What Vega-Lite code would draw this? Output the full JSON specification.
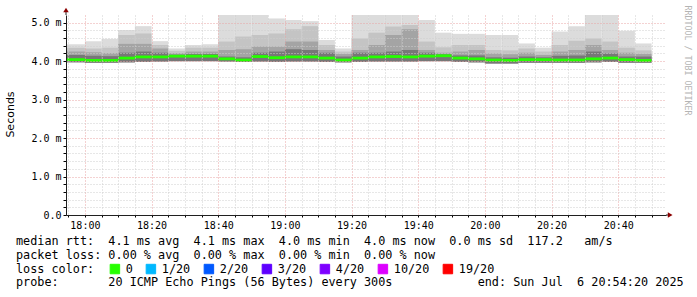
{
  "$schema": "https://vega.github.io/schema/vega-lite/v6.json",
  "width": 600,
  "height": 200,
  "autosize": {"type": "none"},
  "padding": {"left": 66, "top": 15, "right": 31, "bottom": 82},
  "background": "white",
  "config": {"view": {"stroke": null}, "font": "DejaVu Sans Mono"},
  "title": {
    "text": [
      "median rtt:\u00a0\u00a04.1 ms avg\u00a0\u00a04.1 ms max\u00a0\u00a04.0 ms min\u00a0\u00a04.0 ms now\u00a0\u00a00.0 ms sd\u00a0\u00a0117.2\u00a0\u00a0\u00a0am/s",
      "packet loss: 0.00 % avg\u00a0\u00a00.00 % max\u00a0\u00a00.00 % min\u00a0\u00a00.00 % now"
    ],
    "subtitle": "probe:\u00a0\u00a0\u00a0\u00a0\u00a0\u00a0\u00a020 ICMP Echo Pings (56 Bytes) every 300s\u00a0\u00a0\u00a0\u00a0\u00a0\u00a0\u00a0\u00a0\u00a0\u00a0\u00a0\u00a0end: Sun Jul\u00a0\u00a06 20:54:20 2025",
    "orient": "bottom",
    "anchor": "start",
    "frame": "group",
    "align": "left",
    "baseline": "top",
    "dx": -50,
    "offset": -40,
    "font": "DejaVu Sans Mono",
    "fontSize": 11.8,
    "fontWeight": "normal",
    "color": "#000000",
    "lineHeight": 14,
    "subtitleFont": "DejaVu Sans Mono",
    "subtitleFontSize": 11.8,
    "subtitleFontWeight": "normal",
    "subtitleColor": "#000000",
    "subtitleLineHeight": 14,
    "subtitlePadding": 15
  },
  "datasets": {
    "smoke": [
      {"start": "2025-07-06T17:50:00Z", "end": "2025-07-06T18:00:00Z", "hi": 4.44, "q3": 4.35, "q2": 4.25, "q1": 4.16, "med": 4.04, "lo": 3.97, "loss": "0"},
      {"start": "2025-07-06T18:00:00Z", "end": "2025-07-06T18:05:00Z", "hi": 4.52, "q3": 4.33, "q2": 4.23, "q1": 4.14, "med": 4.02, "lo": 3.96, "loss": "0"},
      {"start": "2025-07-06T18:05:00Z", "end": "2025-07-06T18:10:00Z", "hi": 4.58, "q3": 4.35, "q2": 4.21, "q1": 4.13, "med": 4.02, "lo": 3.96, "loss": "0"},
      {"start": "2025-07-06T18:10:00Z", "end": "2025-07-06T18:15:00Z", "hi": 4.81, "q3": 4.68, "q2": 4.45, "q1": 4.22, "med": 4.08, "lo": 3.97, "loss": "0"},
      {"start": "2025-07-06T18:15:00Z", "end": "2025-07-06T18:20:00Z", "hi": 4.91, "q3": 4.72, "q2": 4.45, "q1": 4.25, "med": 4.11, "lo": 3.98, "loss": "0"},
      {"start": "2025-07-06T18:20:00Z", "end": "2025-07-06T18:25:00Z", "hi": 4.52, "q3": 4.42, "q2": 4.33, "q1": 4.22, "med": 4.11, "lo": 3.99, "loss": "0"},
      {"start": "2025-07-06T18:25:00Z", "end": "2025-07-06T18:30:00Z", "hi": 4.33, "q3": 4.27, "q2": 4.21, "q1": 4.17, "med": 4.13, "lo": 4.00, "loss": "0"},
      {"start": "2025-07-06T18:30:00Z", "end": "2025-07-06T18:35:00Z", "hi": 4.42, "q3": 4.35, "q2": 4.25, "q1": 4.19, "med": 4.13, "lo": 4.00, "loss": "0"},
      {"start": "2025-07-06T18:35:00Z", "end": "2025-07-06T18:40:00Z", "hi": 4.44, "q3": 4.35, "q2": 4.25, "q1": 4.19, "med": 4.13, "lo": 4.00, "loss": "0"},
      {"start": "2025-07-06T18:40:00Z", "end": "2025-07-06T18:45:00Z", "hi": 5.20, "q3": 4.51, "q2": 4.29, "q1": 4.12, "med": 4.06, "lo": 3.99, "loss": "0"},
      {"start": "2025-07-06T18:45:00Z", "end": "2025-07-06T18:50:00Z", "hi": 5.20, "q3": 4.64, "q2": 4.31, "q1": 4.10, "med": 4.03, "lo": 3.98, "loss": "0"},
      {"start": "2025-07-06T18:50:00Z", "end": "2025-07-06T18:55:00Z", "hi": 5.20, "q3": 4.68, "q2": 4.38, "q1": 4.22, "med": 4.12, "lo": 3.99, "loss": "0"},
      {"start": "2025-07-06T18:55:00Z", "end": "2025-07-06T19:00:00Z", "hi": 5.11, "q3": 4.72, "q2": 4.38, "q1": 4.25, "med": 4.09, "lo": 3.98, "loss": "0"},
      {"start": "2025-07-06T19:00:00Z", "end": "2025-07-06T19:05:00Z", "hi": 5.07, "q3": 4.83, "q2": 4.51, "q1": 4.31, "med": 4.11, "lo": 3.99, "loss": "0"},
      {"start": "2025-07-06T19:05:00Z", "end": "2025-07-06T19:10:00Z", "hi": 5.04, "q3": 4.91, "q2": 4.51, "q1": 4.29, "med": 4.11, "lo": 3.99, "loss": "0"},
      {"start": "2025-07-06T19:10:00Z", "end": "2025-07-06T19:15:00Z", "hi": 4.55, "q3": 4.42, "q2": 4.29, "q1": 4.22, "med": 4.08, "lo": 3.98, "loss": "0"},
      {"start": "2025-07-06T19:15:00Z", "end": "2025-07-06T19:20:00Z", "hi": 4.33, "q3": 4.25, "q2": 4.19, "q1": 4.12, "med": 4.03, "lo": 3.97, "loss": "0"},
      {"start": "2025-07-06T19:20:00Z", "end": "2025-07-06T19:25:00Z", "hi": 5.20, "q3": 4.59, "q2": 4.29, "q1": 4.22, "med": 4.08, "lo": 3.98, "loss": "0"},
      {"start": "2025-07-06T19:25:00Z", "end": "2025-07-06T19:30:00Z", "hi": 5.20, "q3": 4.74, "q2": 4.42, "q1": 4.22, "med": 4.11, "lo": 3.99, "loss": "0"},
      {"start": "2025-07-06T19:30:00Z", "end": "2025-07-06T19:35:00Z", "hi": 5.20, "q3": 4.90, "q2": 4.68, "q1": 4.25, "med": 4.12, "lo": 3.99, "loss": "0"},
      {"start": "2025-07-06T19:35:00Z", "end": "2025-07-06T19:40:00Z", "hi": 5.20, "q3": 4.94, "q2": 4.83, "q1": 4.29, "med": 4.11, "lo": 3.99, "loss": "0"},
      {"start": "2025-07-06T19:40:00Z", "end": "2025-07-06T19:45:00Z", "hi": 5.07, "q3": 4.51, "q2": 4.29, "q1": 4.22, "med": 4.13, "lo": 4.00, "loss": "0"},
      {"start": "2025-07-06T19:45:00Z", "end": "2025-07-06T19:50:00Z", "hi": 4.74, "q3": 4.36, "q2": 4.22, "q1": 4.18, "med": 4.14, "lo": 4.00, "loss": "0"},
      {"start": "2025-07-06T19:50:00Z", "end": "2025-07-06T19:55:00Z", "hi": 4.71, "q3": 4.42, "q2": 4.25, "q1": 4.15, "med": 4.08, "lo": 3.98, "loss": "0"},
      {"start": "2025-07-06T19:55:00Z", "end": "2025-07-06T20:00:00Z", "hi": 4.71, "q3": 4.42, "q2": 4.29, "q1": 4.15, "med": 4.06, "lo": 3.97, "loss": "0"},
      {"start": "2025-07-06T20:00:00Z", "end": "2025-07-06T20:05:00Z", "hi": 4.68, "q3": 4.29, "q2": 4.20, "q1": 4.10, "med": 4.03, "lo": 3.94, "loss": "0"},
      {"start": "2025-07-06T20:05:00Z", "end": "2025-07-06T20:10:00Z", "hi": 4.68, "q3": 4.28, "q2": 4.18, "q1": 4.09, "med": 4.02, "lo": 3.94, "loss": "0"},
      {"start": "2025-07-06T20:10:00Z", "end": "2025-07-06T20:15:00Z", "hi": 4.46, "q3": 4.33, "q2": 4.22, "q1": 4.12, "med": 4.04, "lo": 3.96, "loss": "0"},
      {"start": "2025-07-06T20:15:00Z", "end": "2025-07-06T20:20:00Z", "hi": 4.35, "q3": 4.25, "q2": 4.16, "q1": 4.10, "med": 4.04, "lo": 3.96, "loss": "0"},
      {"start": "2025-07-06T20:20:00Z", "end": "2025-07-06T20:25:00Z", "hi": 4.77, "q3": 4.42, "q2": 4.25, "q1": 4.14, "med": 4.03, "lo": 3.96, "loss": "0"},
      {"start": "2025-07-06T20:25:00Z", "end": "2025-07-06T20:30:00Z", "hi": 4.91, "q3": 4.53, "q2": 4.29, "q1": 4.15, "med": 4.03, "lo": 3.96, "loss": "0"},
      {"start": "2025-07-06T20:30:00Z", "end": "2025-07-06T20:35:00Z", "hi": 5.20, "q3": 4.59, "q2": 4.42, "q1": 4.25, "med": 4.06, "lo": 3.97, "loss": "0"},
      {"start": "2025-07-06T20:35:00Z", "end": "2025-07-06T20:40:00Z", "hi": 5.20, "q3": 4.51, "q2": 4.29, "q1": 4.20, "med": 4.08, "lo": 3.98, "loss": "0"},
      {"start": "2025-07-06T20:40:00Z", "end": "2025-07-06T20:45:00Z", "hi": 4.79, "q3": 4.35, "q2": 4.22, "q1": 4.12, "med": 4.04, "lo": 3.96, "loss": "0"},
      {"start": "2025-07-06T20:45:00Z", "end": "2025-07-06T20:50:00Z", "hi": 4.46, "q3": 4.28, "q2": 4.19, "q1": 4.12, "med": 4.02, "lo": 3.96, "loss": "0"}
    ],
    "axisext": [
      {"dir": "up", "t": "2025-07-06T17:54:20Z", "t2": "2025-07-06T17:54:20Z", "v": 5.2, "v2": 5.33},
      {"dir": "right", "t": "2025-07-06T20:54:20Z", "t2": "2025-07-06T20:55:35Z", "v": 0, "v2": 0}
    ]
  },
  "data": {"name": "smoke"},
  "layer": [
    {
      "mark": {"type": "rect", "color": "#dcdcdc", "clip": true},
      "encoding": {
        "x": {
          "field": "start", "type": "temporal",
          "scale": {"type": "utc", "domain": [{"year": 2025, "month": 7, "date": 6, "hours": 17, "minutes": 54, "seconds": 20, "utc": true}, {"year": 2025, "month": 7, "date": 6, "hours": 20, "minutes": 54, "seconds": 20, "utc": true}]},
          "axis": {
            "title": null,
            "values": [
              {"year": 2025, "month": 7, "date": 6, "hours": 17, "minutes": 55, "utc": true},
              {"year": 2025, "month": 7, "date": 6, "hours": 18, "minutes": 0, "utc": true},
              {"year": 2025, "month": 7, "date": 6, "hours": 18, "minutes": 5, "utc": true},
              {"year": 2025, "month": 7, "date": 6, "hours": 18, "minutes": 10, "utc": true},
              {"year": 2025, "month": 7, "date": 6, "hours": 18, "minutes": 15, "utc": true},
              {"year": 2025, "month": 7, "date": 6, "hours": 18, "minutes": 20, "utc": true},
              {"year": 2025, "month": 7, "date": 6, "hours": 18, "minutes": 25, "utc": true},
              {"year": 2025, "month": 7, "date": 6, "hours": 18, "minutes": 30, "utc": true},
              {"year": 2025, "month": 7, "date": 6, "hours": 18, "minutes": 35, "utc": true},
              {"year": 2025, "month": 7, "date": 6, "hours": 18, "minutes": 40, "utc": true},
              {"year": 2025, "month": 7, "date": 6, "hours": 18, "minutes": 45, "utc": true},
              {"year": 2025, "month": 7, "date": 6, "hours": 18, "minutes": 50, "utc": true},
              {"year": 2025, "month": 7, "date": 6, "hours": 18, "minutes": 55, "utc": true},
              {"year": 2025, "month": 7, "date": 6, "hours": 19, "minutes": 0, "utc": true},
              {"year": 2025, "month": 7, "date": 6, "hours": 19, "minutes": 5, "utc": true},
              {"year": 2025, "month": 7, "date": 6, "hours": 19, "minutes": 10, "utc": true},
              {"year": 2025, "month": 7, "date": 6, "hours": 19, "minutes": 15, "utc": true},
              {"year": 2025, "month": 7, "date": 6, "hours": 19, "minutes": 20, "utc": true},
              {"year": 2025, "month": 7, "date": 6, "hours": 19, "minutes": 25, "utc": true},
              {"year": 2025, "month": 7, "date": 6, "hours": 19, "minutes": 30, "utc": true},
              {"year": 2025, "month": 7, "date": 6, "hours": 19, "minutes": 35, "utc": true},
              {"year": 2025, "month": 7, "date": 6, "hours": 19, "minutes": 40, "utc": true},
              {"year": 2025, "month": 7, "date": 6, "hours": 19, "minutes": 45, "utc": true},
              {"year": 2025, "month": 7, "date": 6, "hours": 19, "minutes": 50, "utc": true},
              {"year": 2025, "month": 7, "date": 6, "hours": 19, "minutes": 55, "utc": true},
              {"year": 2025, "month": 7, "date": 6, "hours": 20, "minutes": 0, "utc": true},
              {"year": 2025, "month": 7, "date": 6, "hours": 20, "minutes": 5, "utc": true},
              {"year": 2025, "month": 7, "date": 6, "hours": 20, "minutes": 10, "utc": true},
              {"year": 2025, "month": 7, "date": 6, "hours": 20, "minutes": 15, "utc": true},
              {"year": 2025, "month": 7, "date": 6, "hours": 20, "minutes": 20, "utc": true},
              {"year": 2025, "month": 7, "date": 6, "hours": 20, "minutes": 25, "utc": true},
              {"year": 2025, "month": 7, "date": 6, "hours": 20, "minutes": 30, "utc": true},
              {"year": 2025, "month": 7, "date": 6, "hours": 20, "minutes": 35, "utc": true},
              {"year": 2025, "month": 7, "date": 6, "hours": 20, "minutes": 40, "utc": true},
              {"year": 2025, "month": 7, "date": 6, "hours": 20, "minutes": 45, "utc": true},
              {"year": 2025, "month": 7, "date": 6, "hours": 20, "minutes": 50, "utc": true}
            ],
            "labelExpr": "utcminutes(datum.value) % 20 == 0 ? utcFormat(datum.value, '%H:%M') : ''",
            "labelFont": "DejaVu Sans Mono", "labelFontSize": 10, "labelColor": "#000000",
            "labelOverlap": false, "labelFlush": false, "labelPadding": 3, "labelBaseline": "top", "labelAngle": 0,
            "tickSize": 2, "tickColor": "#000000", "domainColor": "#202020",
            "grid": true,
            "gridColor": {"condition": {"test": "utcminutes(datum.value) % 20 == 0", "value": "#e8a4a4"}, "value": "#cfcfcf"},
            "gridDash": [1, 2],
            "zindex": 1
          }
        },
        "x2": {"field": "end"},
        "y": {
          "field": "lo", "type": "quantitative",
          "scale": {"domain": [0, 5.2], "nice": false, "zero": true},
          "axis": {
            "orient": "left",
            "title": "Seconds",
            "titleFont": "DejaVu Sans", "titleFontSize": 11, "titleFontWeight": "normal", "titleColor": "#000000",
            "titleAngle": 270, "titleAlign": "center", "titleBaseline": "middle", "titleX": -55.5, "titleY": 99,
            "values": [0, 0.2, 0.4, 0.6, 0.8, 1, 1.2, 1.4, 1.6, 1.8, 2, 2.2, 2.4, 2.6, 2.8, 3, 3.2, 3.4, 3.6, 3.8, 4, 4.2, 4.4, 4.6, 4.8, 5],
            "labelExpr": "abs(datum.value - round(datum.value)) < 0.01 ? (datum.value == 0 ? '0.0\u00a0\u00a0' : format(datum.value, '.1f') + ' m') : ''",
            "labelFont": "DejaVu Sans Mono", "labelFontSize": 10, "labelColor": "#000000",
            "labelOverlap": false, "labelFlush": false, "labelPadding": 2,
            "tickSize": 3, "tickColor": "#000000", "domainColor": "#202020",
            "grid": true,
            "gridColor": {"condition": {"test": "abs(datum.value - round(datum.value)) < 0.01", "value": "#e8a4a4"}, "value": "#cfcfcf"},
            "gridDash": [1, 2],
            "zindex": 1
          }
        },
        "y2": {"field": "hi"}
      }
    },
    {
      "mark": {"type": "rect", "color": "#c4c4c4", "clip": true},
      "encoding": {
        "x": {"field": "start", "type": "temporal", "axis": null},
        "x2": {"field": "end"},
        "y": {"field": "lo", "type": "quantitative", "axis": null},
        "y2": {"field": "q3"}
      }
    },
    {
      "mark": {"type": "rect", "color": "#a4a4a4", "clip": true},
      "encoding": {
        "x": {"field": "start", "type": "temporal", "axis": null},
        "x2": {"field": "end"},
        "y": {"field": "lo", "type": "quantitative", "axis": null},
        "y2": {"field": "q2"}
      }
    },
    {
      "mark": {"type": "rect", "color": "#777777", "clip": true},
      "encoding": {
        "x": {"field": "start", "type": "temporal", "axis": null},
        "x2": {"field": "end"},
        "y": {"field": "lo", "type": "quantitative", "axis": null},
        "y2": {"field": "q1"}
      }
    },
    {
      "mark": {"type": "rule", "strokeWidth": 2.8, "clip": true},
      "encoding": {
        "x": {"field": "start", "type": "temporal", "axis": null},
        "x2": {"field": "end"},
        "y": {
          "field": "med", "type": "quantitative",
          "axis": {
            "orient": "right", "title": "RRDTOOL / TOBI OETIKER",
            "labels": false, "ticks": false, "domain": false, "grid": false,
            "titleAngle": 90, "titleFont": "DejaVu Sans Mono", "titleFontSize": 8.3, "titleFontWeight": "normal",
            "titleColor": "#b4b4b4", "titleX": 20, "titleY": -10, "titleAlign": "left", "titleBaseline": "middle"
          }
        },
        "color": {
          "field": "loss", "type": "nominal",
          "scale": {"domain": ["0", "1/20", "2/20", "3/20", "4/20", "10/20", "19/20"], "range": ["#26ff00", "#00b8ff", "#0059ff", "#5e00ff", "#7e00ff", "#dd00ff", "#ff0000"]},
          "legend": {
            "orient": "none", "legendX": -50, "legendY": 248, "direction": "horizontal", "columns": 7,
            "title": "loss color:", "titleOrient": "left", "titleFont": "DejaVu Sans Mono", "titleFontSize": 11.8,
            "titleFontWeight": "normal", "titleColor": "#000000", "titlePadding": 14, "titleBaseline": "middle",
            "labelFont": "DejaVu Sans Mono", "labelFontSize": 11.8, "labelColor": "#000000", "labelOffset": 5,
            "symbolType": "square", "symbolSize": 90, "symbolStrokeWidth": 1, "symbolOpacity": 1,
            "columnPadding": 11, "padding": 0,
            "encode": {"symbols": {"update": {"fill": {"scale": "color", "field": "value"}, "stroke": {"value": "#000000"}, "strokeWidth": {"value": 1}}}}
          }
        }
      }
    },
    {
      "data": {"name": "axisext"},
      "mark": {"type": "rule", "color": "#202020", "strokeWidth": 1},
      "encoding": {
        "x": {"field": "t", "type": "temporal", "axis": null},
        "x2": {"field": "t2"},
        "y": {"field": "v", "type": "quantitative", "axis": null},
        "y2": {"field": "v2"}
      }
    },
    {
      "data": {"name": "axisext"},
      "transform": [{"filter": "datum.dir == 'up'"}],
      "mark": {"type": "point", "shape": "triangle-up", "filled": true, "color": "#8b0000", "size": 30, "opacity": 1},
      "encoding": {
        "x": {"field": "t2", "type": "temporal", "axis": null},
        "y": {"field": "v2", "type": "quantitative", "axis": null}
      }
    },
    {
      "data": {"name": "axisext"},
      "transform": [{"filter": "datum.dir == 'right'"}],
      "mark": {"type": "point", "shape": "triangle-right", "filled": true, "color": "#8b0000", "size": 30, "opacity": 1},
      "encoding": {
        "x": {"field": "t2", "type": "temporal", "axis": null},
        "y": {"field": "v2", "type": "quantitative", "axis": null}
      }
    }
  ],
  "resolve": {"axis": {"x": "independent", "y": "independent"}}
}
